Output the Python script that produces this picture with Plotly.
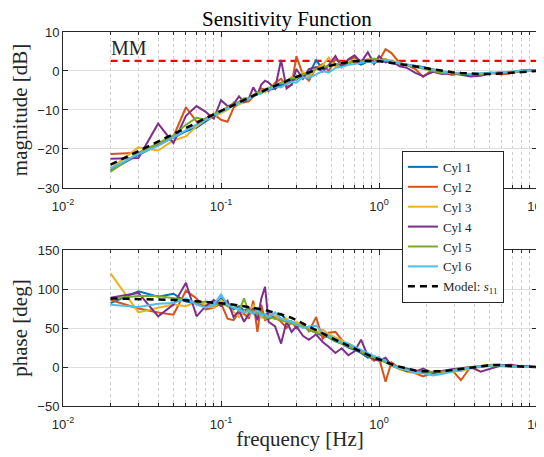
import plotly.graph_objects as go
from plotly.subplots import make_subplots

freq = [0.02, 0.03, 0.04, 0.05, 0.06, 0.07, 0.08, 0.09, 0.10, 0.11, 0.12, 0.13, 0.14, 0.15,
        0.16, 0.17, 0.18, 0.19, 0.20, 0.22, 0.24, 0.26, 0.28, 0.30, 0.33, 0.36, 0.40, 0.44,
        0.48, 0.53, 0.58, 0.64, 0.70, 0.77, 0.85, 0.93, 1.0, 1.1, 1.2, 1.35, 1.5, 1.7, 1.9,
        2.2, 2.5, 2.9, 3.3, 3.8, 4.4, 5.1, 5.9, 6.8, 7.9, 10.0]

mag_cyl1 = [-25.5, -21.5, -19.0, -17.0, -15.5, -14.5, -12.8, -11.5, -10.5, -9.8, -8.5, -8.0, -7.6, -7.2,
            -6.5, -6.0, -5.6, -5.2, -4.8, -4.5, -3.6, -3.2, -2.3, -2.2, -1.0, -0.8, 2.8, 0.5,
            1.5, 1.8, 1.2, 2.0, 2.4, 1.6, 2.5, 2.9, 2.6, 2.8, 2.0, 1.9, 1.6, 1.4, 1.0,
            0.3, -0.4, -0.6, -0.8, -0.9, -0.7, -0.6, -0.4, -0.3, 0.1, 0.2]
mag_cyl2 = [-21.3, -21.0, -19.0, -16.8, -9.3, -13.0, -12.2, -11.0, -12.5, -13.0, -9.5, -8.2, -8.0, -7.8,
            -6.5, -5.8, -4.5, -4.8, -5.2, -3.0, -2.0, -4.0, -3.6, 3.8, -1.0, -2.5, 0.8, 1.8,
            0.0, 3.0, 2.0, 2.8, 3.5, 2.4, 3.0, 2.0, 2.6, 5.6, 4.6, 2.0, 1.6, 0.5, -1.5,
            0.5, -0.4, -1.0, -0.5, -1.3, -0.8, -0.4, -0.9, -0.6, 0.0, 0.2]
mag_cyl3 = [-25.0, -19.6, -20.4, -17.8, -16.8, -14.2, -12.5, -11.8, -10.8, -10.0, -8.0, -8.6, -7.8, -7.0,
            -6.0, -5.9, -5.0, -5.5, -4.5, -3.6, -3.0, -2.8, -1.5, -2.0, -0.2, -1.5, 0.5, 1.5,
            3.4, 1.0, 1.5, 2.6, 2.2, 2.8, 2.4, 2.4, 3.2, 3.0, 2.6, 2.2, 1.5, 1.2, 0.8,
            0.2, -0.3, -0.5, -0.8, -1.0, -0.7, -0.6, -0.5, -0.2, -0.1, 0.1]
mag_cyl4 = [-22.5, -22.3, -13.5, -18.5, -11.5, -9.0, -10.5, -12.2, -7.5, -9.0, -8.5, -6.5, -8.0, -7.0,
            -4.2, -6.0, -3.5, -2.5, -3.0, -4.5, 2.8, -4.5, -3.5, 0.5, -2.0, 0.5, 1.0, -0.2,
            1.5, 3.8, 1.0, 3.0, 4.0, 2.2, 4.8, 1.8, 3.8, 2.2, 2.5, 1.2, 0.8, -0.5, -1.3,
            -0.2, -0.8, -0.6, -1.0, -1.4, -1.2, -0.6, -0.4, -0.5, 0.0, 0.1]
mag_cyl5 = [-25.8, -21.0, -18.5, -16.5, -13.8, -12.0, -12.5, -11.0, -10.2, -9.3, -8.8, -7.8, -7.0, -7.0,
            -6.2, -5.5, -5.3, -4.6, -4.4, -3.6, -3.0, -2.4, -1.8, -1.8, -0.8, -0.5, 0.5, 1.0,
            1.2, 1.6, 2.2, 2.0, 2.6, 2.4, 2.8, 3.2, 2.8, 3.0, 2.2, 2.0, 1.5, 1.0, 0.5,
            0.0, -0.5, -0.6, -0.8, -0.8, -0.9, -0.6, -0.5, -0.3, -0.1, 0.1]
mag_cyl6 = [-25.0, -21.3, -19.2, -17.0, -15.2, -13.6, -12.4, -11.4, -10.5, -9.6, -8.8, -8.3, -7.6, -7.2,
            -6.4, -6.0, -5.8, -5.0, -4.8, -4.0, -4.2, -3.4, -2.8, -3.0, -1.6, -1.8, -0.8, 0.0,
            -0.4, 0.8, 1.0, 1.6, 1.8, 2.0, 2.4, 2.2, 2.6, 2.8, 2.4, 2.0, 1.6, 1.2, 0.8,
            0.4, -0.2, -0.5, -0.6, -0.8, -0.6, -0.5, -0.4, -0.2, 0.0, 0.1]
mag_model = [-24.0, -20.6, -18.1, -16.2, -14.6, -13.3, -12.1, -11.1, -10.2, -9.4, -8.7, -8.0, -7.4, -6.8,
             -6.3, -5.8, -5.3, -4.9, -4.5, -3.8, -3.1, -2.5, -2.0, -1.5, -0.9, -0.3, 0.3, 0.8,
             1.3, 1.7, 2.0, 2.3, 2.5, 2.6, 2.6, 2.6, 2.5, 2.3, 2.1, 1.8, 1.5, 1.2, 0.9,
             0.4, 0.0, -0.3, -0.5, -0.7, -0.8, -0.8, -0.6, -0.4, -0.2, 0.0]

ph_cyl1 = [82, 97, 90, 94, 84, 82, 80, 78, 88, 80, 74, 78, 72, 76,
           70, 68, 72, 66, 70, 62, 68, 60, 58, 55, 52, 48, 44, 40,
           38, 33, 30, 25, 22, 18, 12, 14, 10, 8, 4, -1, -2, -5, -6,
           -8, -6, -5, -3, -1, 1, 2, 3, 1, 1, 0]
ph_cyl2 = [86, 75, 70, 67, 98, 88, 74, 76, 82, 62, 60, 70, 68, 62,
           85, 45, 80, 60, 62, 64, 58, 50, 58, 50, 55, 46, 64, 36,
           44, 45, 35, 26, 24, 20, 15, 8, 12, -19, 6, -2, -3, -8, -12,
           -7, -8, -4, -17, 0, 1, 3, 2, 0, 1, 0]
ph_cyl3 = [120, 70, 76, 80, 78, 84, 80, 76, 86, 78, 70, 64, 72, 66,
           80, 70, 64, 62, 68, 66, 60, 62, 55, 58, 52, 50, 45, 48,
           42, 38, 34, 30, 26, 20, 16, 14, 9, 6, 2, -3, -6, -8, -8,
           -9, -7, -6, -5, -2, 0, 2, 2, 1, 0, 0]
ph_cyl4 = [89, 95, 65, 80, 108, 65, 78, 86, 78, 85, 64, 72, 58, 68,
           75, 60, 88, 103, 58, 52, 30, 58, 45, 52, 40, 35, 42, 32,
           26, 18, 24, 15, 20, 35, 14, 10, 8, 12, 2, -2, -5, -6, -2,
           -8, -5, -3, -2, 0, -6, -2, 2, 3, 1, 0]
ph_cyl5 = [88, 91, 91, 88, 86, 82, 84, 80, 82, 78, 80, 72, 88, 70,
           72, 68, 70, 62, 64, 62, 60, 58, 56, 54, 52, 48, 44, 42,
           38, 34, 30, 26, 24, 20, 14, 12, 10, 6, 2, -2, -4, -6, -6,
           -6, -6, -4, -2, 0, 0, 2, 2, 1, 0, 0]
ph_cyl6 = [80, 77, 81, 82, 88, 80, 76, 80, 93, 80, 76, 74, 70, 72,
           68, 74, 66, 68, 64, 70, 62, 60, 58, 55, 50, 52, 53, 44,
           40, 36, 32, 30, 26, 22, 18, 14, 12, 8, 3, -2, -4, -7, -8,
           -11, -9, -6, -4, -1, 1, 2, 2, 1, 0, 0]
ph_model = [88, 87.5, 87, 86, 85.5, 84.5, 84, 83, 82, 81, 80, 79, 78, 77,
            76, 75, 74, 73, 72, 70, 67.5, 65, 63, 60, 56, 52, 47, 43,
            39, 35, 31, 27, 23, 19, 15, 12, 10, 6.5, 3.5, 0.5, -2, -4.5, -5.5,
            -6, -5.5, -4, -2.5, -0.5, 1.5, 2.5, 2.5, 1.5, 0.5, 0]

mm_freq = [0.02, 10.0]
mm_level = [2.6, 2.6]

names = ["Cyl 1", "Cyl 2", "Cyl 3", "Cyl 4", "Cyl 5", "Cyl 6"]
colors = ["#0072BD", "#D95319", "#EDB120", "#7E2F8E", "#77AC30", "#4DBEEE"]
mags = [mag_cyl1, mag_cyl2, mag_cyl3, mag_cyl4, mag_cyl5, mag_cyl6]
phases = [ph_cyl1, ph_cyl2, ph_cyl3, ph_cyl4, ph_cyl5, ph_cyl6]

xtick_vals = [0.01, 0.1, 1, 10]
xtick_text = ["10<sup>-2</sup>", "10<sup>-1</sup>", "10<sup>0</sup>", "10<sup>1</sup>"]
minor_vals = [m * d for d in (0.01, 0.1, 1) for m in range(2, 10)]

SERIF = "Liberation Serif, Times New Roman, serif"
SANS = "Liberation Sans, Arial, sans-serif"
AXC = "#262626"

fig = make_subplots(rows=2, cols=1, vertical_spacing=0.0)

fig.add_trace(go.Scatter(x=mm_freq, y=mm_level, mode="lines", showlegend=False,
                         line=dict(color="#FF0000", width=2.2, dash="7px,5px")), row=1, col=1)

for n, c, m, p in zip(names, colors, mags, phases):
    fig.add_trace(go.Scatter(x=freq, y=m, mode="lines", name=n, legendgroup=n,
                             line=dict(color=c, width=2)), row=1, col=1)
    fig.add_trace(go.Scatter(x=freq, y=p, mode="lines", name=n, legendgroup=n, showlegend=False,
                             line=dict(color=c, width=2)), row=2, col=1)

fig.add_trace(go.Scatter(x=freq, y=mag_model, mode="lines", name="Model: <i>s</i><sub>11</sub>",
                         legendgroup="model", line=dict(color="black", width=2.5, dash="7px,5px")),
              row=1, col=1)
fig.add_trace(go.Scatter(x=freq, y=ph_model, mode="lines", showlegend=False, legendgroup="model",
                         line=dict(color="black", width=2.5, dash="7px,5px")), row=2, col=1)

xaxis_common = dict(
    type="log", range=[-2, 1], tickmode="array", tickvals=xtick_vals, ticktext=xtick_text,
    showline=True, linecolor=AXC, linewidth=1, mirror="allticks",
    ticks="inside", ticklen=5, tickcolor=AXC,
    showgrid=True, gridcolor="#dedede", gridwidth=1,
    minor=dict(tickmode="array", tickvals=minor_vals, ticks="inside", ticklen=3, tickcolor=AXC,
               showgrid=True, gridcolor="#cccccc", griddash="dot", gridwidth=1),
    tickfont=dict(family=SANS, size=13, color=AXC), zeroline=False,
    automargin=False, ticklabeloverflow="allow", ticklabelstandoff=6,
)
yaxis_common = dict(
    showline=True, linecolor=AXC, linewidth=1, mirror="allticks",
    ticks="inside", ticklen=5, tickcolor=AXC,
    showgrid=True, gridcolor="#dedede", gridwidth=1, zeroline=False,
    tickfont=dict(family=SANS, size=13, color=AXC), automargin=False,
)

fig.update_xaxes(**xaxis_common)
fig.update_yaxes(**yaxis_common)
fig.update_xaxes(row=2, col=1, title=dict(text="frequency [Hz]", font=dict(family=SERIF, size=21, color=AXC), standoff=0))
fig.update_yaxes(row=1, col=1, range=[-30, 10], tickvals=[-30, -20, -10, 0, 10],
                 domain=[0.583, 1.0],
                 title=dict(text="magnitude [dB]", font=dict(family=SERIF, size=21, color=AXC), standoff=5))
fig.update_yaxes(row=2, col=1, range=[-50, 150], tickvals=[-50, 0, 50, 100, 150],
                 domain=[0.0, 0.417],
                 title=dict(text="phase [deg]", font=dict(family=SERIF, size=21, color=AXC), standoff=5))

fig.add_annotation(x=-1.699, y=2.6, xref="x", yref="y", text="MM", showarrow=False,
                   xanchor="left", yanchor="bottom", yshift=0, xshift=-2,
                   font=dict(family=SERIF, size=20, color=AXC))

# the page body adds an 8px offset; the figure is sized so its plot area lands where the reference's does
fig.update_layout(
    width=536, height=449,
    margin=dict(l=55, r=7, t=24, b=51, autoexpand=False),
    paper_bgcolor="white", plot_bgcolor="white",
    title=dict(text="Sensitivity Function", x=0.5205, xanchor="center", y=0.976, yanchor="middle",
               font=dict(family=SERIF, size=21, color="black")),
    legend=dict(x=0.715, y=0.682, xanchor="left", yanchor="top",
                bgcolor="white", bordercolor=AXC, borderwidth=1,
                font=dict(family=SERIF, size=13, color=AXC),
                tracegroupgap=0, itemwidth=30),
)

fig.write_html("out.html")
